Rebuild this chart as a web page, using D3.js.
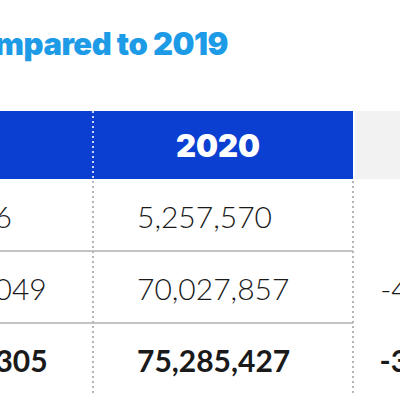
<!DOCTYPE html>
<html>
<head>
<meta charset="utf-8">
<script src="https://cdn.jsdelivr.net/npm/d3@7"></script>
<style>
  html, body { margin: 0; padding: 0; background: #fff; }
  svg { display: block; }
</style>
</head>
<body>
<div id="chart"></div>
<script>
// ---- data ----
const title = "Compared to 2019";
const columns = ["Category", "2019", "2020", "Change"];
const headerLabels = ["", "2019", "2020", ""];
const rowKeys = ["r1", "r2", "total"];
const values2019 = ["4,712,256", "118,690,049", "123,402,305"];
const values2020 = ["5,257,570", "70,027,857", "75,285,427"];
const changes = ["", "-41.0%", "-39.0%"];
const boldRow = [false, false, true];

// ---- layout ----
const W = 400, H = 400;
const svg = d3.select("#chart").append("svg").attr("width", W).attr("height", H);

const x = d3.scaleBand().domain(columns).range([-427, 613]).paddingInner(0);
const headerTop = 111, headerBottom = 179, tableBottom = 395;
const y = d3.scaleBand().domain(rowKeys).range([headerBottom, tableBottom]);

const blue = "#0b3fd2", titleBlue = "#1d9be6", grey = "#f2f2f2";
const numFont = "Lato, 'Open Sans', sans-serif";
const heavyFont = "Inter, 'Noto Sans', sans-serif";

// title
svg.append("text")
  .attr("x", 228).attr("y", 55)
  .attr("text-anchor", "end")
  .attr("font-family", heavyFont)
  .attr("font-weight", 900)
  .attr("font-size", 31)
  .attr("letter-spacing", -0.5)
  .attr("fill", titleBlue)
  .text(title);

// header cells
svg.append("rect")
  .attr("x", x("Category")).attr("y", headerTop)
  .attr("width", x("Change") - x("Category")).attr("height", headerBottom - headerTop)
  .attr("fill", blue);
svg.append("rect")
  .attr("x", x("Change") + 2).attr("y", headerTop)
  .attr("width", x.bandwidth()).attr("height", headerBottom - headerTop)
  .attr("fill", grey);

svg.selectAll("text.head").data(columns.map((c, i) => ({c, t: headerLabels[i]})).filter(d => d.t))
  .join("text").attr("class", "head")
  .attr("x", d => x(d.c) + x.bandwidth() / 2 - 5)
  .attr("y", 157)
  .attr("text-anchor", "middle")
  .attr("font-family", heavyFont)
  .attr("font-weight", 900)
  .attr("font-size", 31)
  .attr("fill", "#fff")
  .text(d => d.t);

// horizontal row lines
svg.selectAll("line.row").data(rowKeys.slice(1))
  .join("line").attr("class", "row")
  .attr("x1", 0).attr("x2", x("Change"))
  .attr("y1", d => y(d)).attr("y2", d => y(d))
  .attr("stroke", "#c4c4c4").attr("stroke-width", 2);

// dotted vertical dividers
svg.append("line")
  .attr("x1", x("2020")).attr("x2", x("2020"))
  .attr("y1", headerTop).attr("y2", headerBottom)
  .attr("stroke", "#c9d3f5").attr("stroke-width", 2).attr("stroke-dasharray", "2,3");
svg.selectAll("line.div").data(["2020", "Change"])
  .join("line").attr("class", "div")
  .attr("x1", d => x(d)).attr("x2", d => x(d))
  .attr("y1", headerBottom + 2).attr("y2", tableBottom)
  .attr("stroke", "#b5b5b5").attr("stroke-width", 2).attr("stroke-dasharray", "2,3");

// cell values
const rowsData = rowKeys.map((k, i) => ({k, v19: values2019[i], v20: values2020[i], ch: changes[i], bold: boldRow[i]}));
const baseOff = 49;
function cellText(cls, col, acc, anchor, dx) {
  svg.selectAll("text." + cls).data(rowsData)
    .join("text").attr("class", cls)
    .attr("x", x(col) + dx)
    .attr("y", d => y(d.k) + baseOff)
    .attr("text-anchor", anchor)
    .attr("font-family", numFont)
    .attr("font-weight", d => d.bold ? 700 : 300)
    .attr("font-size", 30)
    .attr("fill", "#1a1a1a")
    .text(acc);
}
cellText("v19", "2019", d => d.v19, "start", 44);
cellText("v20", "2020", d => d.v20, "start", 44);
cellText("ch", "Change", d => d.ch, "middle", 74);
</script>
</body>
</html>
